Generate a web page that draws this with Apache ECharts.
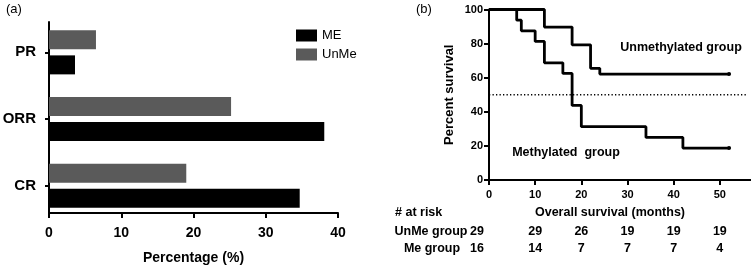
<!DOCTYPE html>
<html>
<head>
<meta charset="utf-8">
<script src="https://cdn.jsdelivr.net/npm/echarts@6/dist/echarts.min.js"></script>
<style>
  html, body { margin: 0; padding: 0; background: #fff; }
  #main { width: 751px; height: 268px; }
</style>
</head>
<body>
<div id="main"></div>
<script>
// (a) response rates, %
var responseCats = ['CR', 'ORR', 'PR'];
var meRate = [34.7, 38.1, 3.6];
var unmeRate = [19.0, 25.2, 6.5];

// (b) Kaplan-Meier curves, [months, percent survival]
var unmeCurve = [[0, 100], [12, 89.7], [18, 79.3], [22, 65.5], [24, 62.1], [52, 62.1]];
var meCurve = [[0, 100], [6, 93.75], [7, 87.5], [10, 81.25], [12, 68.75], [16, 62.5],
  [18, 43.75], [20, 31.25], [34, 25], [42, 18.75], [52, 18.75]];
var medianLine = [[0, 50], [56, 50]];

// number at risk table
var riskMonths = [0, 10, 20, 30, 40, 50];
var unmeRisk = [29, 29, 26, 19, 19, 19];
var meRisk = [16, 14, 7, 7, 7, 4];

var FONT = '"Liberation Sans", Arial, sans-serif';
var bold = function (size) { return 'bold ' + size + 'px ' + FONT; };

var myChart = echarts.init(document.getElementById('main'));

var axisLineStyle = { show: true, lineStyle: { color: '#000', width: 2 } };
var tickStyle = { show: true, length: 5, lineStyle: { color: '#000', width: 2 } };

var option = {
  animation: false,
  textStyle: { fontFamily: FONT },
  legend: {
    data: ['ME', 'UnMe'],
    orient: 'vertical',
    left: 291,
    top: 24,
    itemWidth: 21,
    itemHeight: 12,
    itemGap: 6,
    icon: 'rect',
    textStyle: { color: '#000', fontSize: 13, fontFamily: FONT }
  },
  grid: [
    { left: 49, top: 19, width: 289, height: 200, outerBoundsMode: 'none' },   // bars
    { left: 49, top: 22, width: 289, height: 191, outerBoundsMode: 'none' },   // frame of (a)
    { left: 489, top: 9.5, width: 277, height: 170.5, outerBoundsMode: 'none' } // survival, runs past the right edge
  ],
  xAxis: [
    { gridIndex: 0, type: 'value', min: 0, max: 40, show: false },
    {
      gridIndex: 1, type: 'value', min: 0, max: 40, interval: 10,
      axisLine: axisLineStyle, axisTick: tickStyle, splitLine: { show: false },
      axisLabel: { color: '#000', fontWeight: 'bold', fontSize: 14, margin: 13 },
      name: 'Percentage (%)', nameLocation: 'middle', nameGap: 38,
      nameTextStyle: { color: '#000', fontWeight: 'bold', fontSize: 14 }
    },
    {
      gridIndex: 2, type: 'value', min: 0, max: 60, interval: 10,
      axisLine: axisLineStyle, axisTick: tickStyle, splitLine: { show: false },
      axisLabel: { color: '#000', fontWeight: 'bold', fontSize: 11, margin: 9, showMaxLabel: false }
    }
  ],
  yAxis: [
    {
      gridIndex: 0, type: 'category', data: responseCats,
      axisLine: { show: false },
      axisTick: { show: true, alignWithLabel: true, length: 4, lineStyle: { color: '#000', width: 2 } },
      axisLabel: { color: '#000', fontWeight: 'bold', fontSize: 15, margin: 13 }
    },
    {
      gridIndex: 1, type: 'value', min: 0, max: 1,
      axisLine: axisLineStyle, axisTick: { show: false },
      axisLabel: { show: false }, splitLine: { show: false }
    },
    {
      gridIndex: 2, type: 'value', min: 0, max: 100, interval: 20,
      axisLine: axisLineStyle, axisTick: tickStyle, splitLine: { show: false },
      axisLabel: { color: '#000', fontWeight: 'bold', fontSize: 11, margin: 6 },
      name: 'Percent survival', nameLocation: 'middle', nameGap: 33,
      nameTextStyle: { color: '#000', fontWeight: 'bold', fontSize: 13 }
    }
  ],
  series: [
    // UnMe first so that it sits above ME within each category
    {
      name: 'UnMe', type: 'bar', xAxisIndex: 0, yAxisIndex: 0,
      data: unmeRate, barWidth: 19, barGap: '32%',
      itemStyle: { color: '#5a5a5a' }
    },
    {
      name: 'ME', type: 'bar', xAxisIndex: 0, yAxisIndex: 0,
      data: meRate, barWidth: 19, barGap: '32%',
      itemStyle: { color: '#000' }
    },
    {
      name: 'Unmethylated', type: 'line', xAxisIndex: 2, yAxisIndex: 2,
      data: unmeCurve, step: 'end',
      symbol: 'circle',
      symbolSize: function (v, p) { return p.dataIndex === unmeCurve.length - 1 ? 4 : 0; },
      lineStyle: { color: '#000', width: 2.8 }, itemStyle: { color: '#000' }
    },
    {
      name: 'Methylated', type: 'line', xAxisIndex: 2, yAxisIndex: 2,
      data: meCurve, step: 'end',
      symbol: 'circle',
      symbolSize: function (v, p) { return p.dataIndex === meCurve.length - 1 ? 4 : 0; },
      lineStyle: { color: '#000', width: 2.8 }, itemStyle: { color: '#000' }
    },
    {
      name: 'Median', type: 'line', xAxisIndex: 2, yAxisIndex: 2,
      data: medianLine, symbol: 'none',
      lineStyle: { color: '#000', width: 1.3, type: [1.3, 2.2] }
    }
  ]
};

myChart.setOption(option);

// texts: panel letters, curve labels and the at-risk table
function txt(s, x, y, font, align) {
  return {
    type: 'text', x: x, y: y,
    style: { text: s, font: font, fill: '#000', align: align || 'center', verticalAlign: 'middle' }
  };
}
var els = [
  txt('(a)', 6, 9, '13px ' + FONT, 'left'),
  txt('(b)', 416, 9, '13px ' + FONT, 'left'),
  txt('Unmethylated group', 681, 48, bold(12.5)),
  txt('Methylated  group', 566, 153, bold(12.5)),
  txt('# at risk', 395, 213, bold(12.5), 'left'),
  txt('Overall survival (months)', 610, 213, bold(12.5)),
  txt('UnMe group', 431, 232, bold(12.5)),
  txt('Me group', 432, 249, bold(12.5))
];
riskMonths.forEach(function (m, i) {
  var px = myChart.convertToPixel({ xAxisIndex: 2 }, m);
  if (i === 0) px -= 12; // first column sits left of the y axis in the original
  els.push(txt(String(unmeRisk[i]), px, 232, bold(12.5)));
  els.push(txt(String(meRisk[i]), px, 249, bold(12.5)));
});
myChart.setOption({ graphic: els });
</script>
</body>
</html>
